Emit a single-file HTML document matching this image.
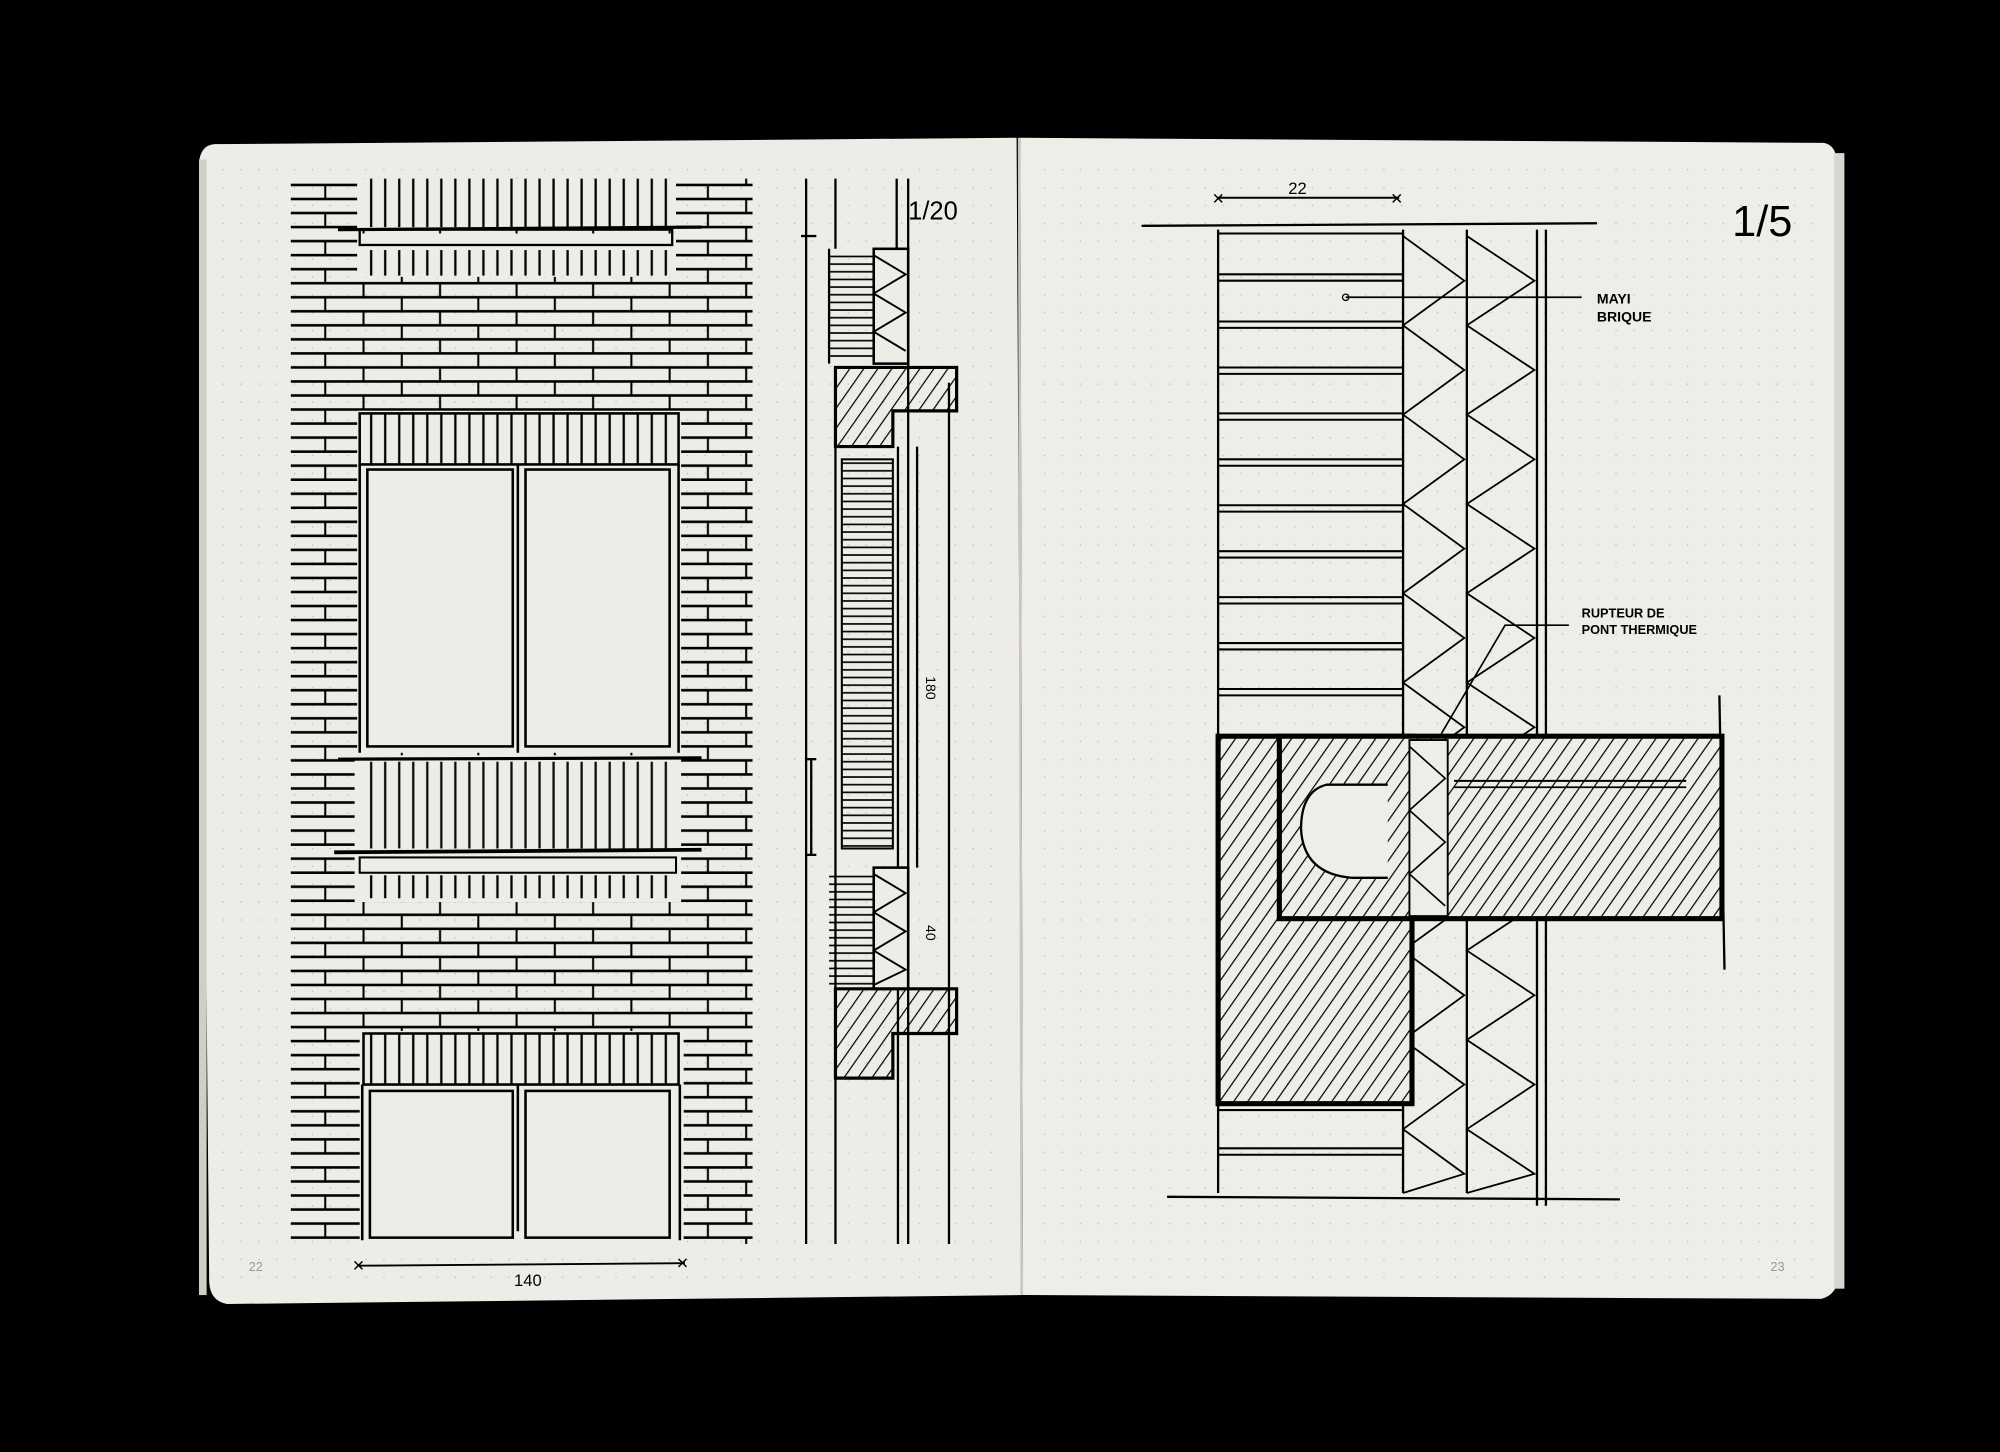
<!DOCTYPE html>
<html><head><meta charset="utf-8"><style>
html,body{margin:0;padding:0;background:#000;}
svg{display:block;}
</style></head><body>
<svg width="2000" height="1452" viewBox="0 0 1568 1138" preserveAspectRatio="none" xmlns="http://www.w3.org/2000/svg" font-family="Liberation Sans, sans-serif">
<defs>
<pattern id="brick" x="0" y="140" width="60" height="22" patternUnits="userSpaceOnUse">
<line x1="0" y1="5" x2="60" y2="5" stroke="#000" stroke-width="2"/>
<line x1="0" y1="16" x2="60" y2="16" stroke="#000" stroke-width="2"/>
<line x1="15" y1="5" x2="15" y2="16" stroke="#000" stroke-width="1.6"/>
<line x1="45" y1="16" x2="45" y2="27" stroke="#000" stroke-width="1.6"/>
<line x1="45" y1="-6" x2="45" y2="5" stroke="#000" stroke-width="1.6"/>
</pattern>
<pattern id="vert" width="11" height="10" patternUnits="userSpaceOnUse">
<line x1="5" y1="0" x2="5" y2="10" stroke="#000" stroke-width="1.8"/>
</pattern>
<pattern id="hz" width="10" height="6" patternUnits="userSpaceOnUse">
<line x1="0" y1="3" x2="10" y2="3" stroke="#000" stroke-width="1.3"/>
</pattern>
<pattern id="diag" width="9" height="9" patternUnits="userSpaceOnUse" patternTransform="rotate(35)">
<line x1="0" y1="0" x2="0" y2="9" stroke="#000" stroke-width="1.9"/>
</pattern>
<pattern id="dots" width="14" height="14" patternUnits="userSpaceOnUse">
<circle cx="7" cy="7" r="0.6" fill="#bbb"/>
</pattern>
</defs>
<rect width="1568" height="1138" fill="#000"/>
<path d="M168 113 L797 108 L802 1015 L178 1022 Q165 1020 164 1005 L156 128 Q157 114 168 113Z" fill="#eeece6"/>
<path d="M800 108 L1430 112 Q1440 114 1440 128 L1442 1000 Q1440 1015 1428 1018 L802 1015Z" fill="#efede8"/>
<rect x="1438" y="120" width="8" height="890" fill="#d8d6d0"/>
<rect x="156" y="125" width="6" height="890" fill="#d0cec8"/>
<rect x="170" y="120" width="620" height="890" fill="url(#dots)"/>
<rect x="810" y="120" width="620" height="890" fill="url(#dots)"/>
<line x1="799" y1="108" x2="801" y2="1015" stroke="#c8c6c0" stroke-width="2"/>
<text x="195" y="996" font-size="10" fill="#999">22</text>
<text x="1388" y="996" font-size="10" fill="#999">23</text>

<rect x="228" y="140" width="362" height="835" fill="url(#brick)"/>
<rect x="280" y="140" width="250" height="40" fill="#eeece6"/>
<rect x="283" y="140" width="245" height="38" fill="url(#vert)"/>
<rect x="280" y="183" width="250" height="34" fill="#eeece6"/>
<line x1="265" y1="180" x2="550" y2="178" stroke="#000" stroke-width="2.5"/>
<rect x="282" y="180" width="245" height="12" fill="none" stroke="#000" stroke-width="1.8"/>
<rect x="282" y="196" width="245" height="20" fill="url(#vert)"/>
<rect x="280" y="322" width="254" height="268" fill="#eeece6"/>
<rect x="282" y="324" width="250" height="40" fill="url(#vert)" stroke="#000" stroke-width="2"/>
<rect x="288" y="368" width="114" height="217" fill="none" stroke="#000" stroke-width="2"/>
<rect x="412" y="368" width="113" height="217" fill="none" stroke="#000" stroke-width="2"/>
<line x1="282" y1="364" x2="282" y2="590" stroke="#000" stroke-width="2"/>
<line x1="532" y1="364" x2="532" y2="590" stroke="#000" stroke-width="2"/>
<line x1="406" y1="364" x2="406" y2="590" stroke="#000" stroke-width="2"/>
<rect x="278" y="592" width="256" height="115" fill="#eeece6"/>
<line x1="265" y1="595" x2="550" y2="594" stroke="#000" stroke-width="2.5"/>
<rect x="283" y="597" width="245" height="68" fill="url(#vert)" opacity="0.95"/>
<line x1="262" y1="668" x2="550" y2="666" stroke="#000" stroke-width="3"/>
<rect x="282" y="672" width="248" height="12" fill="none" stroke="#000" stroke-width="1.6"/>
<rect x="282" y="686" width="248" height="18" fill="url(#vert)"/>
<rect x="282" y="808" width="254" height="167" fill="#eeece6"/>
<rect x="285" y="810" width="247" height="40" fill="url(#vert)" stroke="#000" stroke-width="2"/>
<rect x="290" y="855" width="112" height="115" fill="none" stroke="#000" stroke-width="2"/>
<rect x="412" y="855" width="113" height="115" fill="none" stroke="#000" stroke-width="2"/>
<line x1="284" y1="850" x2="284" y2="972" stroke="#000" stroke-width="2"/>
<line x1="533" y1="850" x2="533" y2="972" stroke="#000" stroke-width="2"/>
<line x1="406" y1="850" x2="406" y2="965" stroke="#000" stroke-width="2"/>
<line x1="280" y1="992" x2="537" y2="990" stroke="#000" stroke-width="1.5"/>
<text x="276" y="996" font-size="12">✕</text><text x="530" y="994" font-size="12">✕</text>
<text x="403" y="1008" font-size="13">140</text>

<g stroke="#000" stroke-width="1.8" fill="none">
<line x1="632" y1="140" x2="632" y2="975"/>
<line x1="655" y1="140" x2="655" y2="195"/>
<line x1="703" y1="140" x2="703" y2="195"/>
<line x1="712" y1="140" x2="712" y2="975"/>
<line x1="650" y1="195" x2="650" y2="285"/>
<line x1="655" y1="350" x2="655" y2="975"/>
<line x1="704" y1="350" x2="704" y2="975"/>
<line x1="719" y1="350" x2="719" y2="680"/>
<line x1="744" y1="300" x2="744" y2="975"/>
<line x1="628" y1="185" x2="640" y2="185"/>
<line x1="636" y1="595" x2="636" y2="670"/>
<line x1="632" y1="595" x2="640" y2="595"/><line x1="632" y1="670" x2="640" y2="670"/>
</g>
<rect x="650" y="198" width="35" height="86" fill="url(#hz)"/>
<rect x="685" y="195" width="27" height="90" fill="#eeece6" stroke="#000" stroke-width="2"/>
<polyline points="685,200 710,215 685,230 710,245 685,260 710,275" fill="none" stroke="#000" stroke-width="1.5"/>
<path d="M655 288 L750 288 L750 322 L700 322 L700 350 L655 350Z" fill="url(#diag)" stroke="#000" stroke-width="2.5"/>
<rect x="660" y="360" width="40" height="305" fill="url(#hz)" stroke="#000" stroke-width="1.6"/>
<rect x="650" y="685" width="35" height="90" fill="url(#hz)"/>
<rect x="685" y="680" width="27" height="95" fill="#eeece6" stroke="#000" stroke-width="2"/>
<polyline points="685,685 710,700 685,715 710,730 685,745 710,760 685,772" fill="none" stroke="#000" stroke-width="1.5"/>
<path d="M655 775 L750 775 L750 810 L700 810 L700 845 L655 845Z" fill="url(#diag)" stroke="#000" stroke-width="2.5"/>
<text x="712" y="172" font-size="20">1/20</text>
<text x="726" y="530" font-size="11" transform="rotate(90 726 530)">180</text>
<text x="726" y="725" font-size="11" transform="rotate(90 726 725)">40</text>

<line x1="955" y1="155" x2="1097" y2="155" stroke="#000" stroke-width="1.5"/>
<text x="950" y="160" font-size="12">✕</text><text x="1090" y="160" font-size="12">✕</text>
<text x="1010" y="152" font-size="13">22</text>
<line x1="895" y1="177" x2="1252" y2="175" stroke="#000" stroke-width="1.8"/>
<text x="1358" y="185" font-size="34">1/5</text>
<g stroke="#000" stroke-width="1.8">
<line x1="955" y1="180" x2="955" y2="935"/>
<line x1="1100" y1="180" x2="1100" y2="935"/>
<line x1="1150" y1="180" x2="1150" y2="935"/>
<line x1="1205" y1="180" x2="1205" y2="945"/>
<line x1="1212" y1="180" x2="1212" y2="945"/>
<line x1="1348" y1="545" x2="1352" y2="760"/>
<line x1="915" y1="938" x2="1270" y2="940"/>
</g>
<g stroke="#000" stroke-width="1.6">
<line x1="955" y1="183" x2="1100" y2="183"/><line x1="955" y1="215" x2="1100" y2="215"/>
<line x1="955" y1="220" x2="1100" y2="220"/><line x1="955" y1="252" x2="1100" y2="252"/>
<line x1="955" y1="257" x2="1100" y2="257"/><line x1="955" y1="288" x2="1100" y2="288"/>
<line x1="955" y1="293" x2="1100" y2="293"/><line x1="955" y1="324" x2="1100" y2="324"/>
<line x1="955" y1="329" x2="1100" y2="329"/><line x1="955" y1="360" x2="1100" y2="360"/>
<line x1="955" y1="365" x2="1100" y2="365"/><line x1="955" y1="396" x2="1100" y2="396"/>
<line x1="955" y1="401" x2="1100" y2="401"/><line x1="955" y1="432" x2="1100" y2="432"/>
<line x1="955" y1="437" x2="1100" y2="437"/><line x1="955" y1="468" x2="1100" y2="468"/>
<line x1="955" y1="473" x2="1100" y2="473"/><line x1="955" y1="504" x2="1100" y2="504"/>
<line x1="955" y1="509" x2="1100" y2="509"/><line x1="955" y1="540" x2="1100" y2="540"/>
<line x1="955" y1="545" x2="1100" y2="545"/>
<line x1="955" y1="870" x2="1100" y2="870"/><line x1="955" y1="900" x2="1100" y2="900"/>
<line x1="955" y1="905" x2="1100" y2="905"/>
</g>
<polyline points="1100,185 1148,220 1100,255 1148,290 1100,325 1148,360 1100,395 1148,430 1100,465 1148,500 1100,535 1148,570 1100,605 1148,640 1100,675 1148,710 1100,745 1148,780 1100,815 1148,850 1100,885 1148,920 1100,935" fill="none" stroke="#000" stroke-width="1.4"/>
<polyline points="1150,185 1203,220 1150,255 1203,290 1150,325 1203,360 1150,395 1203,430 1150,465 1203,500 1150,535 1203,570 1150,605 1203,640 1150,675 1203,710 1150,745 1203,780 1150,815 1203,850 1150,885 1203,920 1150,935" fill="none" stroke="#000" stroke-width="1.4"/>
<rect x="955" y="577" width="152" height="288" fill="#efede8" stroke="#000" stroke-width="4"/>
<rect x="955" y="577" width="152" height="288" fill="url(#diag)"/>
<rect x="1003" y="577" width="347" height="143" fill="#efede8" stroke="#000" stroke-width="4"/>
<rect x="1003" y="577" width="347" height="143" fill="url(#diag)"/>
<rect x="1105" y="580" width="30" height="138" fill="#efede8" stroke="#000" stroke-width="1.5"/>
<polyline points="1105,585 1133,610 1105,635 1133,660 1105,685 1133,710" fill="none" stroke="#000" stroke-width="1.3"/>
<path d="M1088 615 L1040 615 Q1020 620 1020 650 Q1022 685 1060 688 L1088 688" fill="#efede8" stroke="#000" stroke-width="1.8"/>
<line x1="1140" y1="612" x2="1322" y2="612" stroke="#000" stroke-width="1.6"/>
<line x1="1140" y1="617" x2="1322" y2="617" stroke="#000" stroke-width="1.3"/>
<line x1="1055" y1="233" x2="1240" y2="233" stroke="#000" stroke-width="1.4"/>
<circle cx="1055" cy="233" r="2.5" fill="none" stroke="#000"/>
<text x="1252" y="238" font-size="11" font-weight="bold">MAYI</text>
<text x="1252" y="252" font-size="11" font-weight="bold">BRIQUE</text>
<polyline points="1130,575 1180,490 1230,490" fill="none" stroke="#000" stroke-width="1.3"/>
<text x="1240" y="484" font-size="10" font-weight="bold">RUPTEUR DE</text>
<text x="1240" y="497" font-size="10" font-weight="bold">PONT THERMIQUE</text>
</svg>
</body></html>
